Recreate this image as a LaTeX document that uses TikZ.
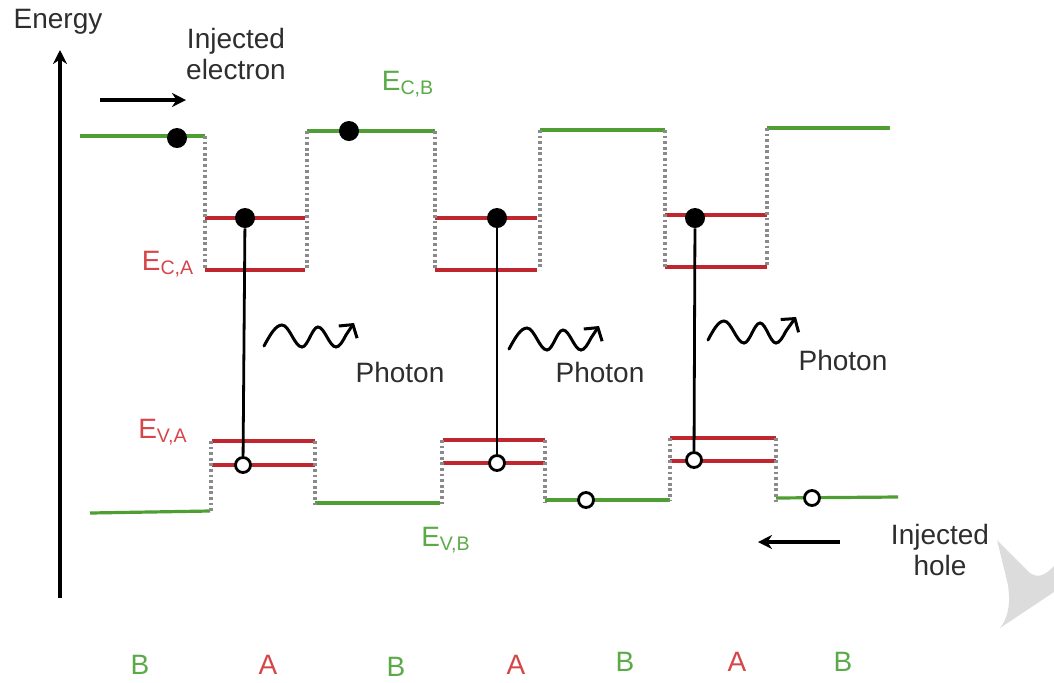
\documentclass[tikz,border=0pt]{standalone}
\usepackage{fontspec}
\setmainfont{Liberation Sans}
\usepackage{xcolor}
\usepackage{tikz}
\usetikzlibrary{arrows.meta,calc}
\definecolor{bandgreen}{HTML}{4E9E33}
\definecolor{bandred}{HTML}{C0262E}
\definecolor{lblgreen}{HTML}{5BAA48}
\definecolor{lblred}{HTML}{D6454A}
\definecolor{inktext}{HTML}{2E2E2E}
\definecolor{dotgrey}{HTML}{8A8A8A}
\definecolor{wmgrey}{HTML}{DCDCDC}
\tikzset{
  barrier/.style   ={draw=bandgreen, line width=1.6pt},
  well/.style      ={draw=bandred, line width=1.6pt},
  wall/.style      ={draw=dotgrey, line width=1.7pt, dash pattern=on 1.4pt off 1.4pt},
  electron/.style  ={circle, fill=black, inner sep=0pt, minimum size=10pt},
  hole/.style      ={circle, draw=black, fill=white, line width=1.4pt, inner sep=0pt, minimum size=7.5pt},
  transition/.style={line width=1.4pt},
  flowarr/.style   ={-{Stealth[length=7pt,width=7pt]}, line width=1.6pt},
  wave/.style      ={-{Straight Barb[length=4.5pt,width=11pt]}, line width=1.5pt, line cap=round},
  lbl/.style       ={font=\fontsize{14}{15.5}\selectfont, text=inktext, align=center, inner sep=0pt},
  lvl/.style       ={font=\fontsize{14}{15.5}\selectfont, text=#1, inner sep=0pt},
}

\begin{document}
\begin{tikzpicture}[x=0.5pt,y=-0.5pt]
\useasboundingbox (0,0) rectangle (1054,682);
\fill[wmgrey] (997,540) -- (1030,573) .. controls (1040,580) and (1048,572) .. (1054,566) -- (1054,592) -- (1000,628) .. controls (1010,615) and (1010,600) .. (1008,585) -- cycle;

% energy axis
\node[lbl] (energy) at (58,22) {Energy};
\coordinate (axbot) at (60,598);
\coordinate (axtop) at (60,50);
\draw[flowarr] (axbot) -- (axtop);

% conduction band
\draw[barrier] (80,136) -- (205,136);
\draw[barrier] (307,131) -- (435,131);
\draw[barrier] (540,130) -- (665,130);
\draw[barrier] (767,128) -- (890,128);
\draw[well] (205,218) -- (305,218);
\draw[well] (205,270) -- (305,270);
\draw[well] (435,218) -- (537,218);
\draw[well] (435,270) -- (537,270);
\draw[well] (665,215) -- (767,215);
\draw[well] (665,267) -- (767,267);
\draw[wall] (205,136) -- (205,270);
\draw[wall] (307,131) -- (307,270);
\draw[wall] (435,131) -- (435,270);
\draw[wall] (540,130) -- (540,270);
\draw[wall] (665,130) -- (665,267);
\draw[wall] (767,128) -- (767,267);

% valence band
\draw[barrier] (90,513) -- (210,511);
\draw[barrier] (315,503) -- (440,503);
\draw[barrier] (545,500) -- (670,500);
\draw[barrier] (776,498) -- (898,497);
\draw[well] (212,441) -- (315,441);
\draw[well] (212,465) -- (315,465);
\draw[well] (443,440) -- (545,440);
\draw[well] (443,463) -- (545,463);
\draw[well] (670,438) -- (776,438);
\draw[well] (670,461) -- (776,461);
\draw[wall] (211,441) -- (211,512);
\draw[wall] (315,441) -- (315,505);
\draw[wall] (442,440) -- (442,505);
\draw[wall] (545,440) -- (545,502);
\draw[wall] (670,438) -- (670,500);
\draw[wall] (776,438) -- (776,505);

% carriers
\node[electron] (e0) at (177,138) {};
\node[electron] (e1) at (349,131) {};
\node[electron] (ea) at (245,218) {};
\node[electron] (eb) at (497,218) {};
\node[electron] (ec) at (695,218) {};
\node[hole] (ha) at (243,465) {};
\node[hole] (hb) at (497,463) {};
\node[hole] (hc) at (694,460) {};
\node[hole] (h1) at (586,500) {};
\node[hole] (h0) at (812,498) {};
\draw[transition] (ea) -- (ha);
\draw[transition] (eb) -- (hb);
\draw[transition] (ec) -- (hc);

% photons
\draw[wave] (264,346) sin ++(18,-21) cos ++(10,11) sin ++(10,11) cos ++(8,-10) sin ++(8,-10) cos ++(9,10) sin ++(9,10) cos ++(10,-12) -- ++(8,-12);
\draw[wave] (509,349) sin ++(18,-21) cos ++(10,11) sin ++(10,11) cos ++(8,-10) sin ++(8,-10) cos ++(9,10) sin ++(9,10) cos ++(10,-12) -- ++(8,-12);
\draw[wave] (708,340) sin ++(16,-19) cos ++(10,11) sin ++(10,11) cos ++(8,-10) sin ++(8,-10) cos ++(8,10) sin ++(8,10) cos ++(10,-12) -- ++(10,-14);
\node[lbl] (ph1) at (400,372) {Photon};
\node[lbl] (ph2) at (600,372) {Photon};
\node[lbl] (ph3) at (843,360) {Photon};

% injection
\node[lbl] (injel) at (236,54) {Injected\\electron};
\coordinate (elfrom) at (100,100);
\coordinate (elto) at (186,100);
\draw[flowarr] (elfrom) -- (elto);
\node[lbl] (injho) at (940,550) {Injected\\hole};
\coordinate (hofrom) at (840,542);
\coordinate (hoto) at (758,542);
\draw[flowarr] (hofrom) -- (hoto);

% level labels
\node[lvl=lblgreen] (ecb) at (408,84) {E\textsubscript{C,B}};
\node[lvl=lblred] (eca) at (168,264) {E\textsubscript{C,A}};
\node[lvl=lblred] (eva) at (163,432) {E\textsubscript{V,A}};
\node[lvl=lblgreen] (evb) at (446,540) {E\textsubscript{V,B}};

% layers
\node[lvl=lblgreen] (l1) at (140,665) {B};
\node[lvl=lblred]   (l2) at (268,665) {A};
\node[lvl=lblgreen] (l3) at (396,667) {B};
\node[lvl=lblred]   (l4) at (516,665) {A};
\node[lvl=lblgreen] (l5) at (625,662) {B};
\node[lvl=lblred]   (l6) at (737,662) {A};
\node[lvl=lblgreen] (l7) at (843,662) {B};
\end{tikzpicture}
\end{document}
